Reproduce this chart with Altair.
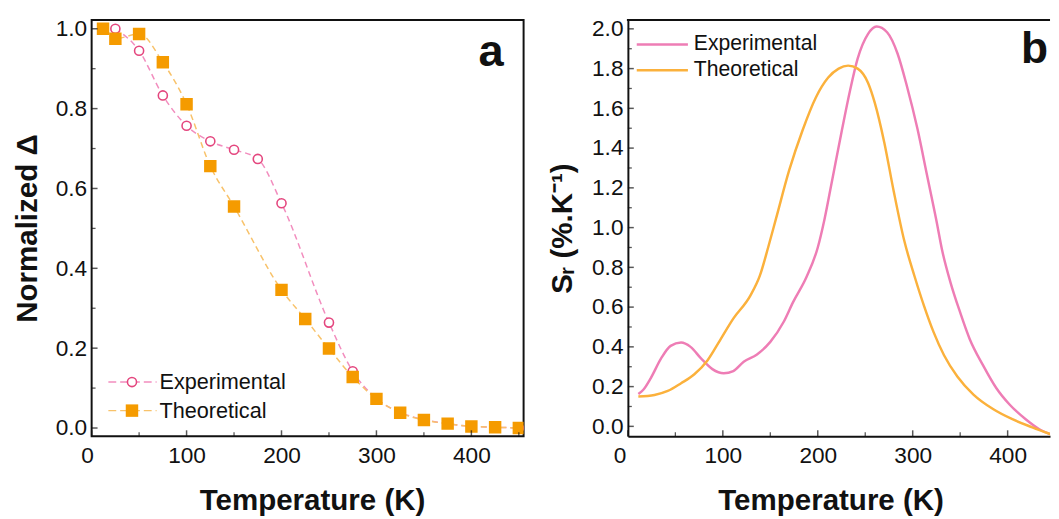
import altair as alt
import pandas as pd

# ---------------- data: panel a (normalized Delta) ----------------
exp_a_T = [25, 50, 75, 100, 125, 150, 175, 200, 250, 275, 300, 325, 350, 375, 400, 425, 450]
exp_a_D = [1.000, 0.945, 0.833, 0.757, 0.718, 0.697, 0.674, 0.563, 0.264, 0.142,
           0.074, 0.039, 0.021, 0.011, 0.004, 0.002, 0.000]
theo_a_T = [12, 25, 50, 75, 100, 125, 150, 200, 225, 250, 275, 300, 325, 350, 375, 400, 425, 450]
theo_a_D = [1.000, 0.975, 0.987, 0.916, 0.811, 0.656, 0.555, 0.346, 0.273, 0.199,
            0.128, 0.073, 0.038, 0.020, 0.011, 0.004, 0.002, 0.000]

# ---------------- data: panel b (relative sensitivity S_r) ----------------
exp_b_T = [11, 16, 24, 35, 45, 56, 66, 77, 89, 101, 111, 122, 136, 150, 164, 174, 188, 200, 207, 215,
           225, 234, 242, 253, 262, 273, 284, 294, 305, 315, 325, 331, 340, 350, 360, 374, 388, 402,
           419, 433, 446]
exp_b_S = [0.163, 0.183, 0.242, 0.342, 0.405, 0.422, 0.400, 0.342, 0.288, 0.267, 0.278, 0.325, 0.362,
           0.425, 0.525, 0.625, 0.750, 0.900, 1.040, 1.235, 1.480, 1.690, 1.850, 1.975, 2.012, 1.983,
           1.876, 1.710, 1.497, 1.266, 1.035, 0.886, 0.721, 0.573, 0.440, 0.308, 0.193, 0.110, 0.036,
           -0.013, -0.041]
theo_b_T = [11, 28, 42, 56, 70, 84, 97, 111, 129, 139, 148, 156, 170, 184, 198, 211, 222, 232, 242, 253,
            260, 270, 280, 291, 302, 312, 322, 333, 347, 364, 385, 405, 426, 446]
theo_b_S = [0.150, 0.158, 0.178, 0.217, 0.262, 0.333, 0.433, 0.542, 0.658, 0.758, 0.905, 1.045, 1.290,
            1.490, 1.655, 1.755, 1.800, 1.815, 1.800, 1.728, 1.629, 1.430, 1.183, 0.936, 0.754, 0.605,
            0.474, 0.358, 0.251, 0.160, 0.086, 0.036, -0.005, -0.041]

series_names = ["Experimental", "Theoretical"]
x_labels = [0, 100, 200, 300, 400]
x_minor = [50, 150, 250, 350, 450]
ya_labels = [0.0, 0.2, 0.4, 0.6, 0.8, 1.0]
ya_minor = [0.1, 0.3, 0.5, 0.7, 0.9]
yb_labels = [0.0, 0.2, 0.4, 0.6, 0.8, 1.0, 1.2, 1.4, 1.6, 1.8, 2.0]
yb_minor = [0.1, 0.3, 0.5, 0.7, 0.9, 1.1, 1.3, 1.5, 1.7, 1.9]

# ---------------- styles ----------------
FONT = "Liberation Sans"
WA, WB, H = 439, 429, 423
XDOM_A = [0, 455]
XDOM_B = [0, 455 * WB / WA]
PINK_LINE_A = "#F28DBE"
PINK_MARK = "#E4467E"
ORANGE_MARK = "#F59B00"
ORANGE_LINE_A = "#F8C26A"
PINK_B = "#EE7DB5"
ORANGE_B = "#FBB13C"
INK = "#111111"

ya_s = alt.Scale(domain=[-0.0205, 1.022], nice=False, zero=False)
yb_s = alt.Scale(domain=[-0.0495, 2.0446], nice=False, zero=False)


def make_x(dom, title_x, flush_off, domain_line):
    return alt.X("T:Q", scale=alt.Scale(domain=dom, nice=False, zero=False),
                 axis=alt.Axis(values=x_labels, format="d", title="Temperature (K)",
                               labelPadding=9, titlePadding=19, titleX=title_x,
                               labelFlush=True, labelFlushOffset=flush_off,
                               domain=domain_line, domainWidth=2, domainColor=INK))


def make_y(field, scale, values, title, domain_line, title_pad):
    return alt.Y(f"{field}:Q", scale=scale,
                 axis=alt.Axis(values=values, format=".1f", title=title,
                               labelPadding=5, titlePadding=title_pad,
                               domain=domain_line, domainWidth=2, domainColor=INK))


def ticks(xenc, yfield, yenc, major_y, minor_y):
    out = []
    out.append(alt.Chart(pd.DataFrame({"T": x_labels})).mark_tick(
        orient="vertical", size=6, thickness=1.5, color=INK).encode(x=xenc, y=alt.value(H - 3)))
    out.append(alt.Chart(pd.DataFrame({"T": x_minor})).mark_tick(
        orient="vertical", size=4, thickness=1.3, color=INK, clip=True).encode(x=xenc, y=alt.value(H - 2)))
    out.append(alt.Chart(pd.DataFrame({yfield: major_y})).mark_tick(
        orient="horizontal", size=6, thickness=1.5, color=INK).encode(y=yenc, x=alt.value(3)))
    out.append(alt.Chart(pd.DataFrame({yfield: minor_y})).mark_tick(
        orient="horizontal", size=4, thickness=1.3, color=INK).encode(y=yenc, x=alt.value(2)))
    return out


df_e = pd.DataFrame({"label": [series_names[0]]})
df_t = pd.DataFrame({"label": [series_names[1]]})

# ---------------- panel a ----------------
xa = make_x(XDOM_A, 224, 11, False)
ya = make_y("D", ya_s, ya_labels, "Normalized Δ", False, 13)
df_exp_a = pd.DataFrame({"T": exp_a_T, "D": exp_a_D})
df_theo_a = pd.DataFrame({"T": theo_a_T, "D": theo_a_D})

a_exp_line = alt.Chart(df_exp_a).mark_line(
    color=PINK_LINE_A, strokeWidth=1.5, strokeDash=[6, 4], interpolate="monotone").encode(x=xa, y=ya)
a_theo_line = alt.Chart(df_theo_a).mark_line(
    color=ORANGE_LINE_A, strokeWidth=1.5, strokeDash=[6, 4], interpolate="monotone").encode(x=xa, y=ya)
a_exp_pts = alt.Chart(df_exp_a).mark_point(
    shape="circle", filled=True, fill="white", stroke=PINK_MARK, strokeWidth=1.6,
    size=85, opacity=1).encode(x=xa, y=ya)
a_theo_pts = alt.Chart(df_theo_a).mark_point(
    shape="square", filled=True, color=ORANGE_MARK, size=160, opacity=1, clip=True).encode(x=xa, y=ya)

leg_a_y = [368, 397]
leg_a = [
    alt.Chart(df_e).mark_rule(color=PINK_LINE_A, strokeWidth=1.5, strokeDash=[8, 4]).encode(
        x=alt.value(17), x2=alt.value(66), y=alt.value(leg_a_y[0])),
    alt.Chart(df_e).mark_point(shape="circle", filled=True, fill="white", stroke=PINK_MARK,
                               strokeWidth=1.6, size=85, opacity=1).encode(
        x=alt.value(41), y=alt.value(leg_a_y[0])),
    alt.Chart(df_e).mark_text(align="left", baseline="middle", font=FONT, fontSize=22,
                              color=INK).encode(
        text="label:N", x=alt.value(69), y=alt.value(leg_a_y[0])),
    alt.Chart(df_t).mark_rule(color=ORANGE_LINE_A, strokeWidth=1.5, strokeDash=[8, 4]).encode(
        x=alt.value(17), x2=alt.value(66), y=alt.value(leg_a_y[1])),
    alt.Chart(df_t).mark_point(shape="square", filled=True, color=ORANGE_MARK,
                               size=160, opacity=1).encode(
        x=alt.value(41), y=alt.value(leg_a_y[1])),
    alt.Chart(df_t).mark_text(align="left", baseline="middle", font=FONT, fontSize=22,
                              color=INK).encode(
        text="label:N", x=alt.value(69), y=alt.value(leg_a_y[1])),
]

tag_a = alt.Chart(pd.DataFrame({"label": ["a"]})).mark_text(
    align="center", baseline="alphabetic", font=FONT, fontSize=46, fontWeight="bold", color=INK).encode(
    text="label:N", x=alt.value(406), y=alt.value(47))

panel_a = alt.layer(a_exp_line, a_theo_line, a_exp_pts, a_theo_pts,
                    *ticks(xa, "D", ya, ya_labels, ya_minor), *leg_a, tag_a).properties(width=WA, height=H)

# ---------------- panel b (right edge cut by the picture) ----------------
xb = make_x(XDOM_B, 206, 15, True)
yb = make_y("S", yb_s, yb_labels, "Sᵣ (%.K⁻¹)", True, 14)
df_exp_b = pd.DataFrame({"T": exp_b_T, "S": exp_b_S})
df_theo_b = pd.DataFrame({"T": theo_b_T, "S": theo_b_S})

b_exp = alt.Chart(df_exp_b).mark_line(color=PINK_B, strokeWidth=2.5, interpolate="monotone",
                                      clip=True).encode(x=xb, y=yb)
b_theo = alt.Chart(df_theo_b).mark_line(color=ORANGE_B, strokeWidth=2.5, interpolate="monotone",
                                        clip=True).encode(x=xb, y=yb)

top_border = alt.Chart(df_e).mark_rule(color=INK, strokeWidth=2).encode(
    x=alt.value(-1), x2=alt.value(WB), y=alt.value(0))

leg_b_y = [25, 51]
leg_b = [
    alt.Chart(df_e).mark_rule(color=PINK_B, strokeWidth=2.5).encode(
        x=alt.value(9), x2=alt.value(61), y=alt.value(leg_b_y[0])),
    alt.Chart(df_e).mark_text(align="left", baseline="middle", font=FONT, fontSize=21.5,
                              color=INK).encode(
        text="label:N", x=alt.value(67), y=alt.value(leg_b_y[0])),
    alt.Chart(df_t).mark_rule(color=ORANGE_B, strokeWidth=2.5).encode(
        x=alt.value(9), x2=alt.value(61), y=alt.value(leg_b_y[1])),
    alt.Chart(df_t).mark_text(align="left", baseline="middle", font=FONT, fontSize=21.5,
                              color=INK).encode(
        text="label:N", x=alt.value(67), y=alt.value(leg_b_y[1])),
]

tag_b = alt.Chart(pd.DataFrame({"label": ["b"]})).mark_text(
    align="right", baseline="alphabetic", font=FONT, fontSize=45, fontWeight="bold", color=INK,
    clip=True).encode(
    text="label:N", x=alt.value(WB - 2), y=alt.value(44))

panel_b = alt.layer(b_exp, b_theo, *ticks(xb, "S", yb, yb_labels, yb_minor), top_border,
                    *leg_b, tag_b).properties(
    width=WB, height=H, view=alt.ViewBackground(strokeOpacity=0))

chart = alt.hconcat(panel_a, panel_b, spacing=21).properties(
    padding={"left": 4, "top": 4, "right": 0, "bottom": 0}
).configure_view(
    stroke=INK, strokeWidth=2
).configure_axis(
    labelFont=FONT, labelFontSize=23, labelColor=INK,
    titleFont=FONT, titleFontSize=30, titleFontWeight="bold", titleColor=INK,
    ticks=False, grid=False
)

chart.save("out.html", embed_options={"renderer": "svg", "actions": False})
